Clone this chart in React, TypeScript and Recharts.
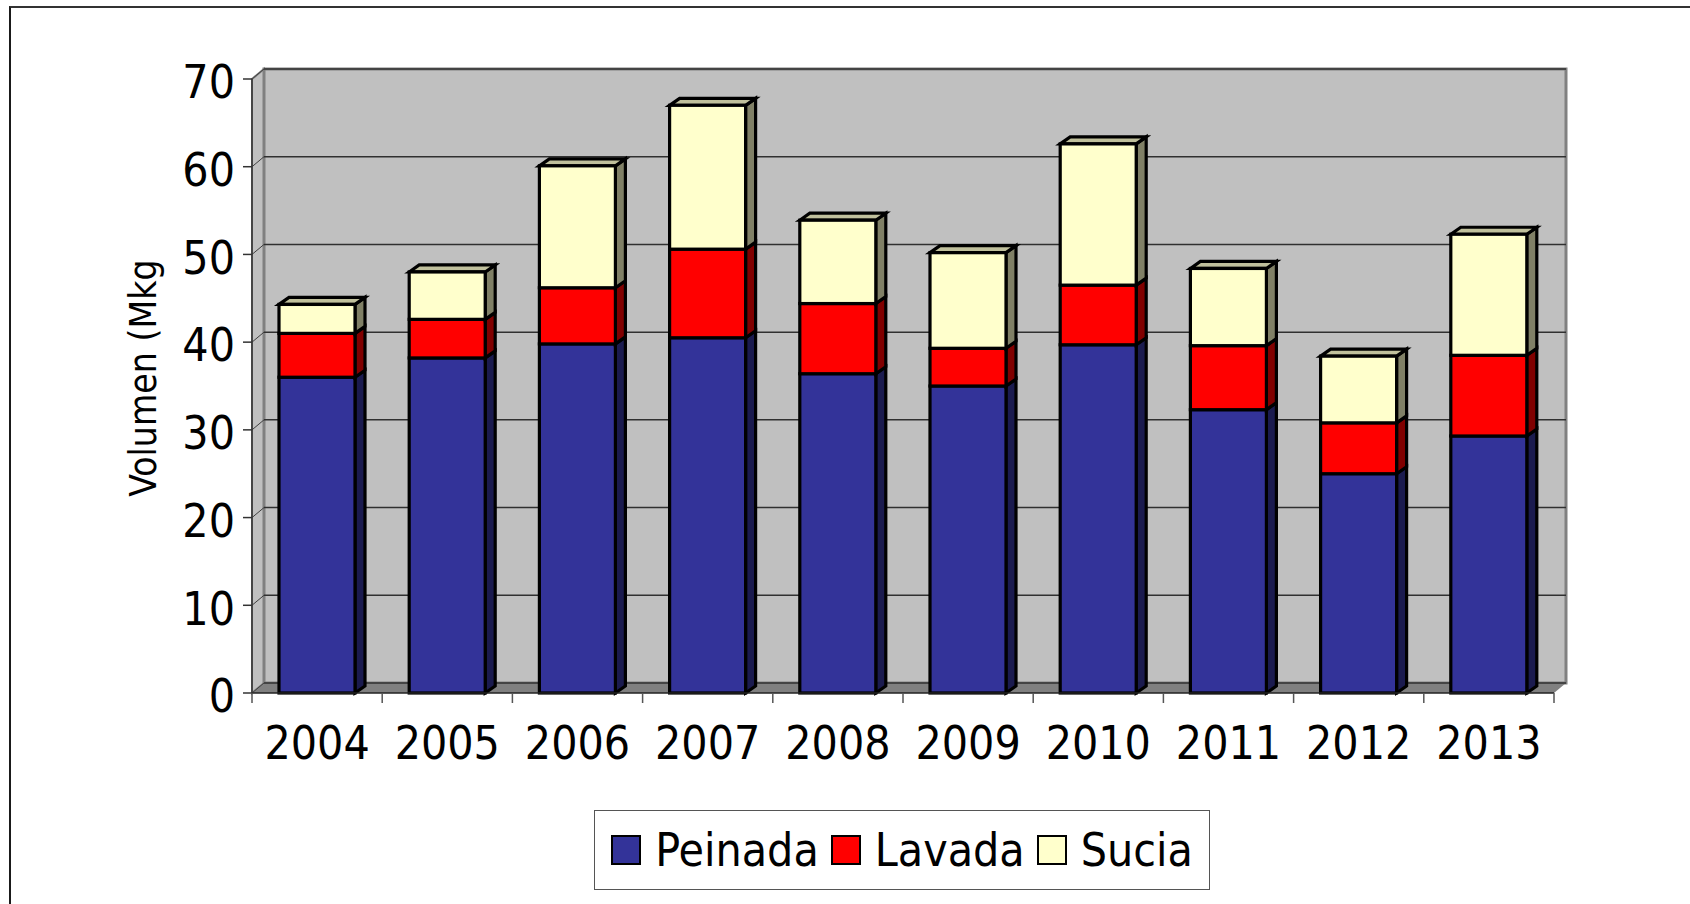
import React from "react";
import { Bar, BarChart, CartesianGrid, ReferenceArea, XAxis, YAxis } from "recharts";

// wool volume by year, stacked (Mkg)
const years = ["2004", "2005", "2006", "2007", "2008", "2009", "2010", "2011", "2012", "2013"];
const peinada = [36.0, 38.2, 39.8, 40.5, 36.4, 35.0, 39.7, 32.3, 25.0, 29.3];
const lavada = [5.0, 4.4, 6.4, 10.1, 8.0, 4.3, 6.8, 7.3, 5.8, 9.2];
const sucia = [3.3, 5.4, 13.9, 16.4, 9.5, 10.9, 16.1, 8.8, 7.6, 13.8];
const yTicks = [0, 10, 20, 30, 40, 50, 60, 70];

const series = [
  { key: "Peinada", fill: "#333399", side: "#1b1b4f" },
  { key: "Lavada", fill: "#ff0000", side: "#800000" },
  { key: "Sucia", fill: "#ffffcc", side: "#808066", top: "#c0c09c" },
];

const data = years.map((year, i) => ({
  year,
  Peinada: peinada[i],
  Lavada: lavada[i],
  Sucia: sucia[i],
}));

const FONT = "'DejaVu Sans Condensed', 'DejaVu Sans', sans-serif";
const DX = 12; // wall depth
const DY = 10;
const BDX = 10; // bar depth
const BDY = 7;

const barShape = (side: string, top?: string) => (props: any) => {
  const { x, y, width, height, fill } = props;
  if (!height || height <= 0) return <g />;
  const r = x + width;
  const b = y + height;
  return (
    <g stroke="#000" strokeWidth={3.2} strokeLinejoin="miter">
      <polygon points={`${r},${b} ${r},${y} ${r + BDX},${y - BDY} ${r + BDX},${b - BDY}`} fill={side} />
      {top && (
        <polygon points={`${x},${y} ${x + BDX},${y - BDY} ${r + BDX},${y - BDY} ${r},${y}`} fill={top} />
      )}
      <rect x={x} y={y} width={width} height={height} fill={fill} />
    </g>
  );
};

function Walls(props: any) {
  const { x, y, width: w, height: h } = props;
  const b = y + h;
  return (
    <g>
      <polygon
        points={`${x},${b} ${x},${y} ${x + DX},${y - DY} ${x + DX},${b - DY}`}
        fill="#c0c0c0"
        stroke="#808080"
        strokeWidth={2}
      />
      <rect x={x + DX} y={y - DY} width={w} height={h} fill="#c0c0c0" stroke="#808080" strokeWidth={3} />
      <polygon
        points={`${x},${b} ${x + DX},${b - DY} ${x + w + DX},${b - DY} ${x + w},${b}`}
        fill="#808080"
      />
    </g>
  );
}

function GridLine(props: any) {
  const { x1, y1, x2, y2, index } = props;
  return (
    <g key={`g-${index}-${y1}`}>
      <line x1={x1} y1={y1} x2={x1 + DX} y2={y1 - DY} stroke="#404040" strokeWidth={1} />
      <line x1={x1 + DX} y1={y1 - DY} x2={x2 + DX} y2={y2 - DY} stroke="#303030" strokeWidth={1.5} />
    </g>
  );
}

function XTick(props: any) {
  const { x, y, payload, index } = props;
  const half = payload?.offset ?? 65;
  const last = index === years.length - 1;
  return (
    <g>
      <line x1={x - half} y1={y} x2={x - half} y2={y + 10} stroke="#555" strokeWidth={1.5} />
      {last && <line x1={x + half} y1={y} x2={x + half} y2={y + 10} stroke="#555" strokeWidth={1.5} />}
      <text x={x} y={y + 66} textAnchor="middle" fontSize={46} fontFamily={FONT} fill="#000">
        {payload.value}
      </text>
    </g>
  );
}

function YTick(props: any) {
  const { x, y, payload } = props;
  return (
    <text x={x} y={y + 3} dy="0.355em" textAnchor="end" fontSize={46} fontFamily={FONT} fill="#000">
      {payload.value}
    </text>
  );
}

function YLabel(props: any) {
  const vb = props.viewBox || { x: 0, y: 79, width: 252, height: 614 };
  const cx = vb.x + 143;
  const cy = vb.y + vb.height / 2 - 8;
  return (
    <text
      x={cx}
      y={cy}
      transform={`rotate(-90 ${cx} ${cy})`}
      textAnchor="middle"
      dominantBaseline="central"
      fontSize={37}
      fontFamily={FONT}
      fill="#000"
    >
      Volumen (Mkg
    </text>
  );
}

export default function App() {
  return (
    <div style={{ position: "fixed", left: 0, top: 0, width: 1690, height: 904, background: "#fff", overflow: "hidden" }}>
      <div
        style={{
          position: "absolute",
          left: 9,
          top: 6,
          width: 1700,
          height: 920,
          borderLeft: "2px solid #1a1a1a",
          borderTop: "2px solid #333",
        }}
      />
      <div style={{ position: "absolute", left: 0, top: 0 }}>
        <BarChart
          width={1690}
          height={904}
          data={data}
          margin={{ top: 79, right: 136, bottom: 151, left: 0 }}
          barSize={76}
        >
          <ReferenceArea y1={0} y2={70} shape={Walls} ifOverflow="visible" zIndex={-200} />
          <CartesianGrid vertical={false} horizontal={GridLine as any} />
          <XAxis
            dataKey="year"
            height={60}
            axisLine={{ stroke: "#222", strokeWidth: 1.5 }}
            tickLine={false}
            tickSize={0}
            tickMargin={0}
            interval={0}
            tick={XTick}
          />
          <YAxis
            width={252}
            domain={[0, 70]}
            ticks={yTicks}
            interval={0}
            axisLine={{ stroke: "#333", strokeWidth: 1.5 }}
            tickLine={{ stroke: "#333", strokeWidth: 1.5 }}
            tickSize={9}
            tickMargin={8}
            tick={YTick}
            label={<YLabel />}
          />
          {series.map((s) => (
            <Bar
              key={s.key}
              dataKey={s.key}
              stackId="v"
              fill={s.fill}
              shape={barShape(s.side, s.top)}
              isAnimationActive={false}
            />
          ))}
        </BarChart>
      </div>
      <div
        style={{
          position: "absolute",
          left: 594,
          top: 810,
          width: 616,
          height: 80,
          boxSizing: "border-box",
          border: "1.5px solid #555",
          background: "#fff",
          display: "flex",
          alignItems: "center",
          justifyContent: "center",
          fontFamily: FONT,
          fontSize: 46,
          color: "#000",
        }}
      >
        {series.map((s, i) => (
          <div key={s.key} style={{ display: "flex", alignItems: "center", marginLeft: i === 0 ? 0 : 12 }}>
            <span
              style={{
                width: 26,
                height: 26,
                border: "2.5px solid #000",
                background: s.fill,
                display: "inline-block",
                marginRight: 14,
              }}
            />
            <span style={{ lineHeight: "46px" }}>{s.key}</span>
          </div>
        ))}
      </div>
    </div>
  );
}
